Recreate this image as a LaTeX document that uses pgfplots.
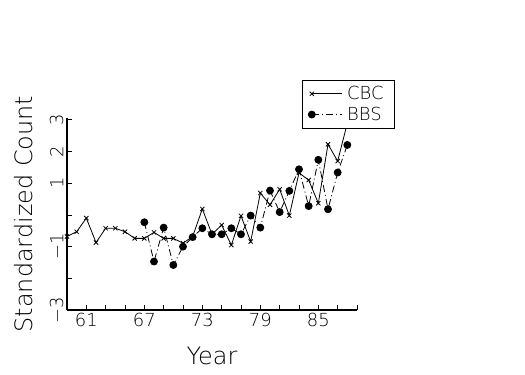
\documentclass[border=0pt]{standalone}
\usepackage{pgfplots}
\pgfplotsset{compat=1.18}
\usepackage{fontspec}
\setmainfont{DejaVu Sans ExtraLight}
\pgfplotstableread{
year cbc
59 -0.68
60 -0.53
61 -0.10
62 -0.87
63 -0.42
64 -0.42
65 -0.53
66 -0.74
67 -0.74
68 -0.55
69 -0.74
70 -0.74
71 -0.89
72 -0.68
73 0.19
74 -0.61
75 -0.32
76 -0.95
77 -0.03
78 -0.84
79 0.69
80 0.32
81 0.81
82 -0.02
83 1.33
84 1.10
85 0.37
86 2.23
87 1.70
88 2.90
}\cbcdata
\pgfplotstableread{
year bbs
67 -0.23
68 -1.47
69 -0.40
70 -1.58
71 -1.00
72 -0.70
73 -0.42
74 -0.61
75 -0.61
76 -0.42
77 -0.61
78 -0.02
79 -0.40
80 0.77
81 0.09
82 0.76
83 1.44
84 0.28
85 1.74
86 0.18
87 1.34
88 2.21
}\bbsdata
\begin{document}
\begin{tikzpicture}
\useasboundingbox (0,0) rectangle (525bp,375bp);
\begin{axis}[
  at={(67bp,65bp)}, anchor=south west,
  scale only axis, width=290bp, height=192bp,
  xmin=59, xmax=89, ymin=-3, ymax=3.06,
  axis x line=bottom, axis y line=left,
  axis line style={line width=1.6bp, -},
  tick align=inside, major tick length=5bp,
  tick style={black, line width=0.8bp},
  xtick={59,61,...,89},
  xticklabels={,61,,,67,,,73,,,79,,,85,,},
  ytick={-3,-2,-1,0,1,2,3},
  yticklabels={−3,,−1,,1,2,3},
  ticklabel style={font=\fontsize{18}{18}\selectfont},
  yticklabel style={rotate=90, anchor=south},
  xlabel={Year}, ylabel={Standardized Count},
  label style={font=\fontsize{24}{24}\selectfont},
  xlabel style={at={(axis description cs:0.5,-0.24)}, anchor=center},
  ylabel style={at={(axis description cs:-0.148,0.5)}, anchor=center},
  legend style={at={(0.81,1.198)}, anchor=north west, draw=black,
    line width=0.8bp, fill=white, font=\fontsize{18}{20}\selectfont,
    cells={anchor=west}, inner xsep=6bp, inner ysep=4bp, row sep=2bp,
    nodes={inner xsep=5bp}},
  legend image code/.code={\draw[mark repeat=2,mark phase=1,#1] plot coordinates {(0bp,0bp) (30bp,0bp)};},
]
\addplot[black, line width=0.8bp, mark=x, mark size=3bp, mark options={solid, line width=0.8bp}] table[x=year, y=cbc] {\cbcdata};
\addlegendentry{CBC}
\addplot[black, line width=0.8bp, dash pattern=on 7bp off 3bp on 1bp off 3bp, mark=*, mark size=3.5bp, mark options={solid, fill=black}] table[x=year, y=bbs] {\bbsdata};
\addlegendentry{BBS}
\end{axis}
\end{tikzpicture}
\end{document}
